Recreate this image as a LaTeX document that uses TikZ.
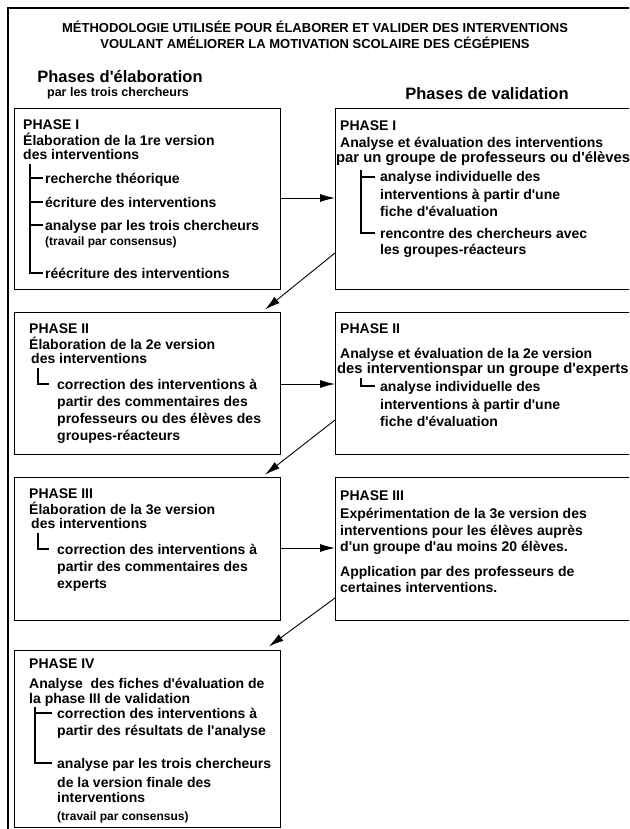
\documentclass[tikz,border=0pt]{standalone}
\usepackage{fontspec}
\setmainfont{Liberation Sans}
\usetikzlibrary{arrows.meta}
\newcommand{\apo}{\textquotesingle}

\tikzset{
  ln/.style={anchor=base west, inner sep=0pt, font=\bfseries\fontsize{14}{16}\selectfont},
  wide/.style={anchor=base west, inner sep=0pt, font=\bfseries\fontsize{14.8}{16}\selectfont},
  sm/.style={anchor=base west, inner sep=0pt, font=\bfseries\fontsize{12}{14}\selectfont},
  phbox/.style={draw, line width=1.2pt, anchor=north west, inner sep=0pt},
  tree/.style={line width=1.1pt},
  link/.style={-{Latex[length=15pt,width=8pt]}, line width=0.9pt},
}

\begin{document}
\begin{tikzpicture}[x=1pt,y=-1pt]
\useasboundingbox (0,0) rectangle (629,829);
\clip (0,0) rectangle (629,829);
\draw [line width=1.2pt] (640,8) -| (8,840);

\node (ttl) [font=\bfseries\fontsize{13}{16}\selectfont, align=center] at (315,35)
  {MÉTHODOLOGIE UTILISÉE POUR ÉLABORER ET VALIDER DES INTERVENTIONS\\
   VOULANT AMÉLIORER LA MOTIVATION SCOLAIRE DES CÉGÉPIENS};
\node (hel) [font=\bfseries\fontsize{16.5}{18}\selectfont] at (120,77) {Phases d\apo élaboration};
\node (hel2) [font=\bfseries\fontsize{12.5}{14}\selectfont] at (118,93) {par les trois chercheurs};
\node (hval) [font=\bfseries\fontsize{16.5}{18}\selectfont] at (487,94) {Phases de validation};

% boxes
\node (l1) [phbox, minimum width=266pt, minimum height=181pt] at (14,108) {};
\node (r1) [phbox, minimum width=300pt, minimum height=181pt] at (335,108) {};
\node (l2) [phbox, minimum width=266pt, minimum height=142pt] at (14,312) {};
\node (r2) [phbox, minimum width=300pt, minimum height=142pt] at (335,312) {};
\node (l3) [phbox, minimum width=266pt, minimum height=143pt] at (14,477) {};
\node (r3) [phbox, minimum width=300pt, minimum height=143pt] at (335,477) {};
\node (l4) [phbox, minimum width=266pt, minimum height=177pt] at (14,650) {};

% phase I, elaboration
\node (l1h1) [ln] at (23,130) {PHASE I};
\node (l1h2) [ln] at (23,146) {Élaboration de la 1re version};
\node (l1h3) [ln] at (23,160) {des interventions};
\coordinate (l1s) at (30,164);
\node (l1a) [ln] at (45,183) {recherche théorique};
\node (l1b) [ln] at (45,207) {écriture des interventions};
\node (l1c) [ln] at (45,230) {analyse par les trois chercheurs};
\node (l1c2) [sm] at (45,245) {(travail par consensus)};
\node (l1d) [ln] at (45,278) {réécriture des interventions};
\draw [tree] (l1s) |- ([xshift=-2pt,yshift=5pt]l1a.base west);
\draw [tree] (l1s) |- ([xshift=-2pt,yshift=5pt]l1b.base west);
\draw [tree] (l1s) |- ([xshift=-2pt,yshift=5pt]l1c.base west);
\draw [tree] (l1s) |- ([xshift=-2pt,yshift=5pt]l1d.base west);

% phase I, validation
\node (r1h1) [ln] at (340,131) {PHASE I};
\node (r1h2) [ln] at (340,148) {Analyse et évaluation des interventions};
\node (r1h3) [wide] at (336,163) {par un groupe de professeurs ou d\apo élèves};
\coordinate (r1s) at (361,170);
\node (r1a) [ln] at (380,182) {analyse individuelle des};
\node (r1a2) [ln] at (380,200) {interventions à partir d\apo une};
\node (r1a3) [ln] at (380,216) {fiche d\apo évaluation};
\node (r1b) [ln] at (380,238) {rencontre des chercheurs avec};
\node (r1b2) [ln] at (380,254) {les groupes-réacteurs};
\draw [tree] (r1s) |- ([xshift=-5pt,yshift=5pt]r1a.base west);
\draw [tree] (r1s) |- ([xshift=-5pt,yshift=5pt]r1b.base west);

% phase II, elaboration
\node (l2h1) [ln] at (29,333) {PHASE II};
\node (l2h2) [ln] at (29,349) {Élaboration de la 2e version};
\node (l2h3) [ln] at (31,363) {des interventions};
\coordinate (l2s) at (38,368);
\node (l2a) [ln] at (57,389) {correction des interventions à};
\node (l2a2) [ln] at (57,406) {partir des commentaires des};
\node (l2a3) [ln] at (57,423) {professeurs ou des élèves des};
\node (l2a4) [ln] at (57,440) {groupes-réacteurs};
\draw [tree] (l2s) |- ([xshift=-8pt,yshift=5pt]l2a.base west);

% phase II, validation
\node (r2h1) [ln] at (340,333) {PHASE II};
\node (r2h2) [ln] at (340,358) {Analyse et évaluation de la 2e version};
\node (r2h3) [wide] at (337,373) {des interventionspar un groupe d\apo experts};
\coordinate (r2s) at (361,378);
\node (r2a) [ln] at (380,391) {analyse individuelle des};
\node (r2a2) [ln] at (380,409) {interventions à partir d\apo une};
\node (r2a3) [ln] at (380,426) {fiche d\apo évaluation};
\draw [tree] (r2s) |- ([xshift=-5pt,yshift=5pt]r2a.base west);

% phase III, elaboration
\node (l3h1) [ln] at (29,498) {PHASE III};
\node (l3h2) [ln] at (29,514) {Élaboration de la 3e version};
\node (l3h3) [ln] at (31,528) {des interventions};
\coordinate (l3s) at (38,533);
\node (l3a) [ln] at (57,554) {correction des interventions à};
\node (l3a2) [ln] at (57,571) {partir des commentaires des};
\node (l3a3) [ln] at (57,588) {experts};
\draw [tree] (l3s) |- ([xshift=-8pt,yshift=5pt]l3a.base west);

% phase III, validation
\node (r3h1) [ln] at (340,500) {PHASE III};
\node (r3h2) [ln] at (340,518) {Expérimentation de la 3e version des};
\node (r3h3) [ln] at (340,535) {interventions pour les élèves auprès};
\node (r3h4) [ln] at (340,551) {d\apo un groupe d\apo au moins 20 élèves.};
\node (r3b) [ln] at (340,576) {Application par des professeurs de};
\node (r3b2) [ln] at (340,592) {certaines interventions.};

% phase IV, elaboration
\node (l4h1) [ln] at (29,668) {PHASE IV};
\node (l4h2) [ln] at (29,688) {Analyse \ des fiches d\apo évaluation de};
\node (l4h3) [ln] at (29,703) {la phase III de validation};
\coordinate (l4s) at (35,707);
\node (l4a) [ln] at (57,718) {correction des interventions à};
\node (l4a2) [ln] at (57,735) {partir des résultats de l\apo analyse};
\node (l4b) [ln] at (57,768) {analyse par les trois chercheurs};
\node (l4b2) [ln] at (57,787) {de la version finale des};
\node (l4b3) [ln] at (57,802) {interventions};
\node (l4b4) [sm] at (57,820) {(travail par consensus)};
\draw [tree] (l4s) |- ([xshift=-5pt,yshift=5pt]l4a.base west);
\draw [tree] (l4s) |- ([xshift=-5pt,yshift=5pt]l4b.base west);

% links
\draw [link] (l1.east |- 0,198) -- (r1.west |- 0,198);
\draw [link, shorten >=4pt] (r1.west |- 0,253) -- (l2.north -| 262,0);
\draw [link] (l2.east |- 0,384) -- (r2.west |- 0,384);
\draw [link, shorten >=4pt] (r2.west |- 0,420) -- (l3.north -| 262,0);
\draw [link] (l3.east |- 0,548) -- (r3.west |- 0,548);
\draw [link, shorten >=6pt] (r3.west |- 0,598) -- (l4.north -| 264,0);
\end{tikzpicture}
\end{document}
